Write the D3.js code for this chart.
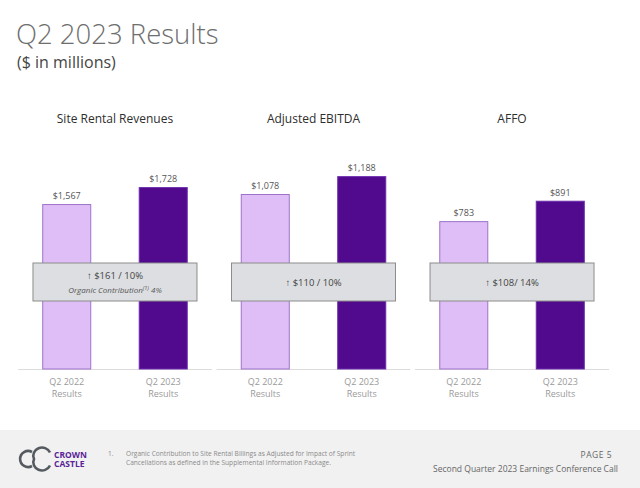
<!DOCTYPE html>
<html>
<head>
<meta charset="utf-8">
<script src="https://cdn.jsdelivr.net/npm/d3@7"></script>
<style>
  body { margin: 0; background: #fff; }
  svg { display: block; font-family: "Open Sans", "Noto Sans", sans-serif; }
</style>
</head>
<body>
<svg id="chart"></svg>
<script>
// panels and their values
const panels = ["Site Rental Revenues", "Adjusted EBITDA", "AFFO"];
const periods = ["Q2 2022", "Q2 2023"];
const values2022 = [1567, 1078, 783];
const values2023 = [1728, 1188, 891];
const growthLabels = ["$161 / 10%", "$110 / 10%", "$108/ 14%"];
// each panel uses its own y scale
const scaleMax = [1900, 1232, 1059];

const width = 640, height = 488;
const baseY = 369, topY = 169;
const colors = { light: "#dfbef7", lightStroke: "#9d73c9", dark: "#51098e", darkStroke: "#6b2cab" };

const svg = d3.select("#chart").attr("width", width).attr("height", height);

// title
svg.append("text")
  .attr("x", 16).attr("y", 43.5)
  .style("font-size", "27.5px").style("font-weight", 300).style("fill", "#6e6e6e")
  .text("Q2 2023 Results");
svg.append("text")
  .attr("x", 17).attr("y", 67.5)
  .style("font-size", "16px").style("fill", "#454545")
  .text("($ in millions)");

const panelScale = d3.scaleBand().domain(panels).range([18, 609]).paddingInner(0.023);

panels.forEach((name, i) => {
  const x0 = panelScale(name);
  const pw = panelScale.bandwidth();
  const g = svg.append("g").attr("transform", `translate(${x0},0)`);

  const x = d3.scaleBand().domain(periods).range([0, pw]).paddingInner(0.492).paddingOuter(0.251);
  const y = d3.scaleLinear().domain([0, scaleMax[i]]).range([baseY, topY]);

  const data = [
    { period: periods[0], value: values2022[i], fill: colors.light, stroke: colors.lightStroke },
    { period: periods[1], value: values2023[i], fill: colors.dark, stroke: colors.darkStroke }
  ];

  // panel title
  g.append("text")
    .attr("x", pw / 2).attr("y", 123)
    .attr("text-anchor", "middle")
    .style("font-size", "12px").style("fill", "#2e2e2e")
    .text(name);

  // baseline
  g.append("line")
    .attr("x1", 0).attr("x2", pw)
    .attr("y1", baseY + 0.5).attr("y2", baseY + 0.5)
    .attr("stroke", "#dcdcdc");

  g.selectAll(".bar")
    .data(data)
    .enter()
    .append("rect")
    .attr("class", "bar")
    .attr("x", d => x(d.period) + 0.5)
    .attr("y", d => y(d.value) + 0.5)
    .attr("width", x.bandwidth() - 1)
    .attr("height", d => baseY - y(d.value) - 0.5)
    .attr("fill", d => d.fill)
    .attr("stroke", d => d.stroke);

  g.selectAll(".val")
    .data(data)
    .enter()
    .append("text")
    .attr("class", "val")
    .attr("x", d => x(d.period) + x.bandwidth() / 2)
    .attr("y", d => y(d.value) - 5)
    .attr("text-anchor", "middle")
    .style("font-size", "9px").style("fill", "#555")
    .text(d => "$" + d3.format(",")(d.value));

  // x labels
  const xl = g.selectAll(".xl")
    .data(periods)
    .enter()
    .append("text")
    .attr("class", "xl")
    .attr("text-anchor", "middle")
    .style("font-size", "9px").style("fill", "#9a9a9a");
  xl.append("tspan").attr("x", d => x(d) + x.bandwidth() / 2).attr("y", 384.5).text(d => d);
  xl.append("tspan").attr("x", d => x(d) + x.bandwidth() / 2).attr("y", 396.5).text("Results");

  // growth box
  const bw = 164, bh = 38;
  g.append("rect")
    .attr("x", pw / 2 - bw / 2).attr("y", 263)
    .attr("width", bw).attr("height", bh)
    .attr("fill", "#dcdee1").attr("stroke", "#8c8c8c");

  const ty = i === 0 ? 278.5 : 285.5;
  g.append("text")
    .attr("x", pw / 2).attr("y", ty)
    .attr("text-anchor", "middle")
    .style("font-size", "9.5px").style("fill", "#444")
    .text("\u2191 " + growthLabels[i]);

  if (i === 0) {
    const t = g.append("text")
      .attr("x", pw / 2).attr("y", 292.5)
      .attr("text-anchor", "middle")
      .style("font-size", "8px").style("font-style", "italic").style("fill", "#555");
    t.append("tspan").text("Organic Contribution");
    t.append("tspan").attr("dy", -3).style("font-size", "5.5px").text("(1)");
    t.append("tspan").attr("dy", 3).text(" 4%");
  }
});

// footer band
svg.append("rect")
  .attr("x", 0).attr("y", 430).attr("width", width).attr("height", height - 430)
  .attr("fill", "#f1f1f1");

// logo
const logo = svg.append("g").attr("fill", "none").attr("stroke", "#555a60").attr("stroke-width", 2.6);
logo.append("path").attr("d", "M32,452 A8,8 0 1 0 32,466");
logo.append("path").attr("d", "M50,452.5 A8,7.5 0 0 0 34,459 A8,7.5 0 0 0 50,465.5");
svg.append("text").attr("x", 54).attr("y", 457.5)
  .style("font-size", "8.5px").style("font-weight", 700).style("fill", "#5b1f98")
  .text("CROWN");
svg.append("text").attr("x", 54).attr("y", 467)
  .style("font-size", "8.5px").style("font-weight", 700).style("fill", "#5b1f98")
  .text("CASTLE");

// footnote
svg.append("text").attr("x", 108).attr("y", 456)
  .style("font-size", "6.5px").style("fill", "#8a8a8a").text("1.");
const fn = svg.append("text").style("font-size", "6.6px").style("fill", "#8a8a8a");
fn.append("tspan").attr("x", 126).attr("y", 456)
  .text("Organic Contribution to Site Rental Billings as Adjusted for Impact of Sprint");
fn.append("tspan").attr("x", 126).attr("y", 465)
  .text("Cancellations as defined in the Supplemental Information Package.");

svg.append("text").attr("x", 612).attr("y", 458).attr("text-anchor", "end")
  .style("font-size", "8.5px").style("fill", "#666").style("letter-spacing", "0.5px")
  .text("PAGE  5");
svg.append("text").attr("x", 618).attr("y", 472).attr("text-anchor", "end")
  .style("font-size", "8.5px").style("fill", "#666")
  .text("Second Quarter 2023 Earnings Conference Call");
</script>
</body>
</html>
